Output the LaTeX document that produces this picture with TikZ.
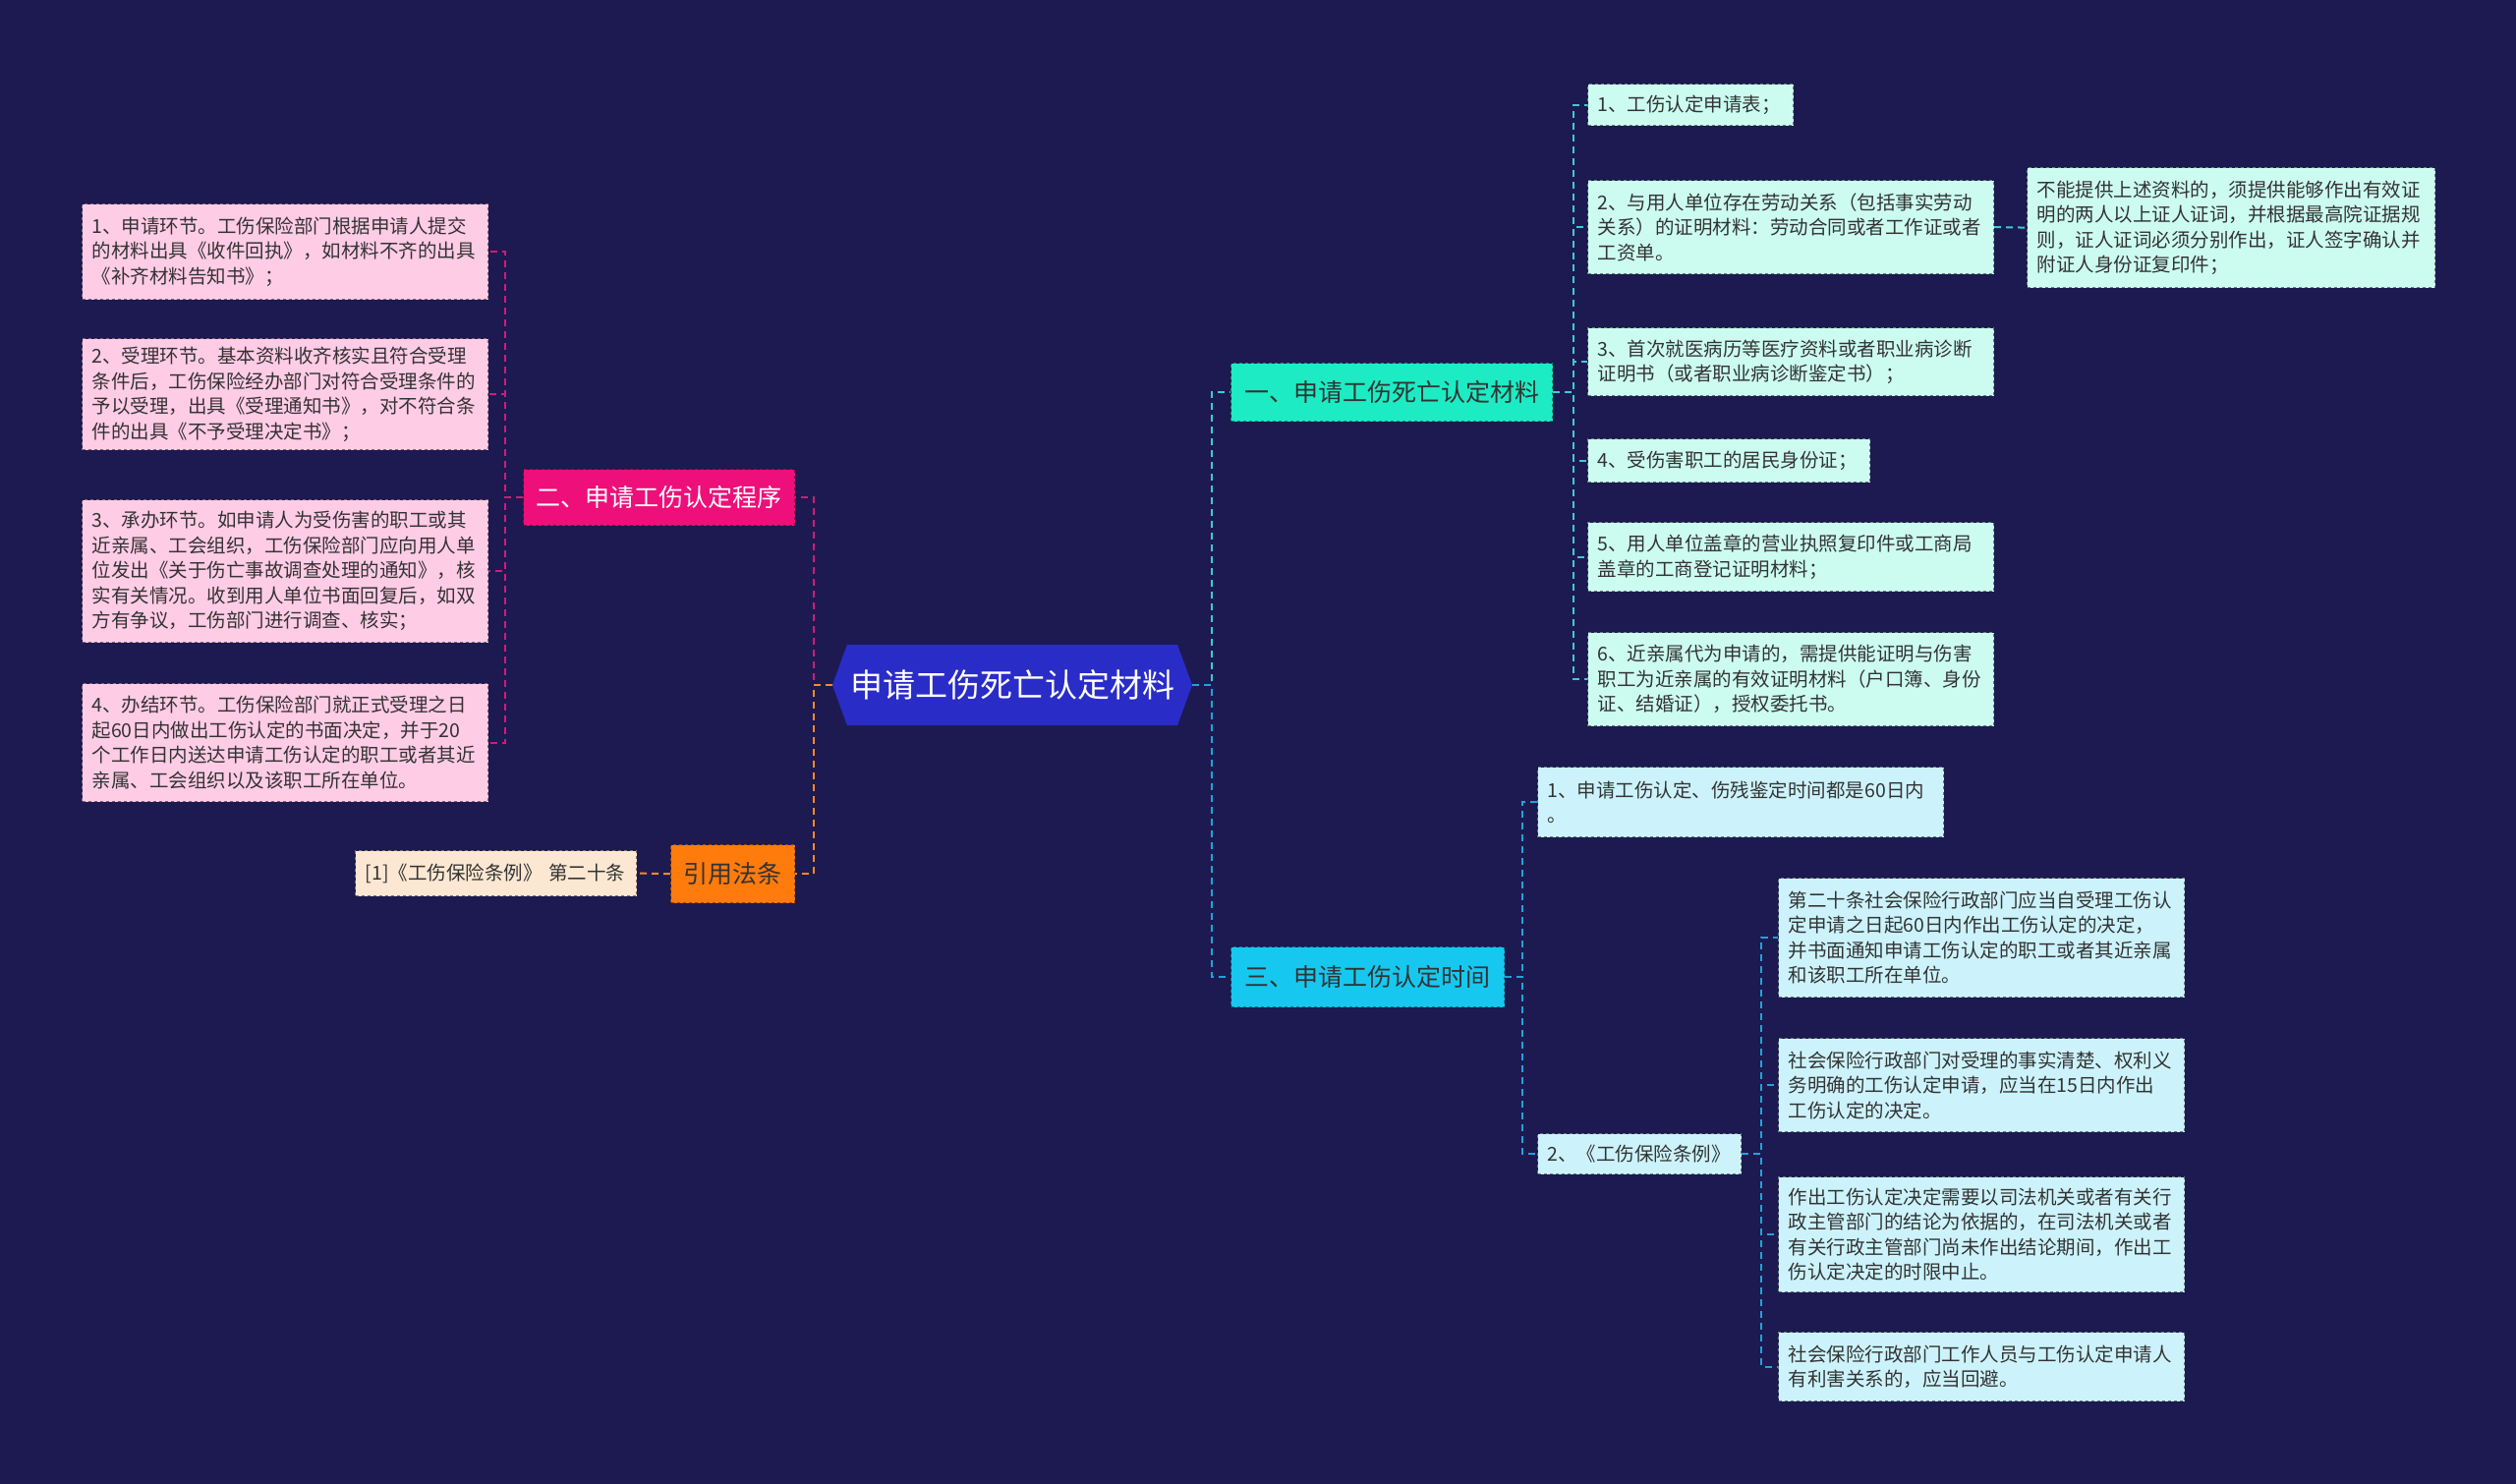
\documentclass[tikz,border=0pt]{standalone}
\usepackage{fontspec}
\setmainfont{Noto Sans CJK SC}
\usepackage{xcolor}
\definecolor{cBg}{HTML}{1C1A50}
\definecolor{cRoot}{HTML}{2A2CC8}
\definecolor{cMint}{HTML}{1DEBC3}
\definecolor{cMintLeaf}{HTML}{CCFCF0}
\definecolor{cMintLink}{HTML}{3CCBD3}
\definecolor{cCyan}{HTML}{16C8F0}
\definecolor{cCyanLeaf}{HTML}{CCF3FB}
\definecolor{cCyanLink}{HTML}{1EA4DB}
\definecolor{cPink}{HTML}{EE0F7A}
\definecolor{cPinkLeaf}{HTML}{FFCCE6}
\definecolor{cPinkLink}{HTML}{D41A78}
\definecolor{cOrange}{HTML}{FF7B0C}
\definecolor{cCream}{HTML}{FCE7D2}
\definecolor{cOrangeLink}{HTML}{FF8A1F}
\definecolor{cText}{HTML}{333333}
\usepackage{tikz}
\usetikzlibrary{positioning,shapes.symbols}
\tikzset{
  node-root/.style={signal,signal to=west and east,signal pointer angle=140,
    fill=cRoot,draw=none,text=white,
    font=\fontsize{33}{40}\selectfont,minimum width=366pt,minimum height=82pt,
    inner sep=0pt},
  node-main/.style={rectangle,dashed,line width=1.2pt,anchor=north west,
    inner xsep=10pt,font=\fontsize{25}{30}\selectfont,text=cText},
  node-leaf/.style={rectangle,dashed,line width=1.2pt,anchor=north west,
    inner xsep=10pt,inner ysep=0pt,align=left,
    font=\fontsize{19.5}{25.5}\selectfont,text=cText},
  leaf-wide/.style={node-leaf,text width=393pt},
  leaf-pink/.style={fill=cPinkLeaf,draw=cPinkLeaf!50!black},
  leaf-mint/.style={fill=cMintLeaf,draw=cMintLeaf!50!black},
  leaf-cyan/.style={fill=cCyanLeaf,draw=cCyanLeaf!50!black},
  link/.style={dashed,dash pattern=on 7pt off 5pt,line width=2pt},
  link-pink/.style={link,draw=cPinkLink},
  link-orange/.style={link,draw=cOrangeLink},
  link-mint/.style={link,draw=cMintLink},
  link-cyan/.style={link,draw=cCyanLink},
}

\begin{document}
\begin{tikzpicture}[x=1pt,y=-1pt]
  \fill[cBg] (0,0) rectangle (2560,1510);
  \useasboundingbox (0,0) rectangle (2560,1510);

  % centre
  \node[node-root] (root) at (1030,697) {申请工伤死亡认定材料};

  % left side
  \node[node-main,fill=cPink,draw=cPink!60!black,text=white,
    minimum width=276pt,minimum height=57pt] (proc) at (532,477) {二、申请工伤认定程序};
  \node[node-main,fill=cOrange,draw=cOrange!60!black,
    minimum width=126pt,minimum height=59pt] (law) at (682,859) {引用法条};
  \node[node-leaf,fill=cCream,draw=cCream!50!black,text width=266pt,
    minimum height=46pt] (law1) at (361,865) {[1]《工伤保险条例》 第二十条};

  \node[leaf-wide,leaf-pink,minimum height=97pt] (p1) at (83,207)
    {1、申请环节。工伤保险部门根据申请人提交\\的材料出具《收件回执》，如材料不齐的出具\\《补齐材料告知书》；};
  \node[leaf-wide,leaf-pink,minimum height=113pt] (p2) at (83,344)
    {2、受理环节。基本资料收齐核实且符合受理\\条件后，工伤保险经办部门对符合受理条件的\\予以受理，出具《受理通知书》，对不符合条\\件的出具《不予受理决定书》；};
  \node[leaf-wide,leaf-pink,minimum height=145pt] (p3) at (83,508)
    {3、承办环节。如申请人为受伤害的职工或其\\近亲属、工会组织，工伤保险部门应向用人单\\位发出《关于伤亡事故调查处理的通知》，核\\实有关情况。收到用人单位书面回复后，如双\\方有争议，工伤部门进行调查、核实；};
  \node[leaf-wide,leaf-pink,minimum height=120pt] (p4) at (83,695)
    {4、办结环节。工伤保险部门就正式受理之日\\起60日内做出工伤认定的书面决定，并于20\\个工作日内送达申请工伤认定的职工或者其近\\亲属、工会组织以及该职工所在单位。};

  % right side, first branch
  \node[node-main,fill=cMint,draw=cMint!60!black,
    minimum width=327pt,minimum height=59pt] (mat) at (1252,369) {一、申请工伤死亡认定材料};
  \node[node-leaf,leaf-mint,text width=189pt,minimum height=42pt] (m1) at (1615,85)
    {1、工伤认定申请表；};
  \node[leaf-wide,leaf-mint,minimum height=95pt] (m2) at (1615,183)
    {2、与用人单位存在劳动关系（包括事实劳动\\关系）的证明材料：劳动合同或者工作证或者\\工资单。};
  \node[node-leaf,leaf-mint,text width=395pt,minimum height=122pt] (m2a) at (2062,170)
    {不能提供上述资料的，须提供能够作出有效证\\明的两人以上证人证词，并根据最高院证据规\\则，证人证词必须分别作出，证人签字确认并\\附证人身份证复印件；};
  \node[leaf-wide,leaf-mint,minimum height=69pt] (m3) at (1615,333)
    {3、首次就医病历等医疗资料或者职业病诊断\\证明书（或者职业病诊断鉴定书）；};
  \node[node-leaf,leaf-mint,text width=267pt,minimum height=44pt] (m4) at (1615,446)
    {4、受伤害职工的居民身份证；};
  \node[leaf-wide,leaf-mint,minimum height=70pt] (m5) at (1615,531)
    {5、用人单位盖章的营业执照复印件或工商局\\盖章的工商登记证明材料；};
  \node[leaf-wide,leaf-mint,minimum height=95pt] (m6) at (1615,643)
    {6、近亲属代为申请的，需提供能证明与伤害\\职工为近亲属的有效证明材料（户口簿、身份\\证、结婚证），授权委托书。};

  % right side, third branch
  \node[node-main,fill=cCyan,draw=cCyan!60!black,
    minimum width=278pt,minimum height=61pt] (time) at (1252,963) {三、申请工伤认定时间};
  \node[leaf-wide,leaf-cyan,minimum height=71pt] (t1) at (1564,780)
    {1、申请工伤认定、伤残鉴定时间都是60日内\\。};
  \node[node-leaf,leaf-cyan,text width=187pt,minimum height=41pt] (t2) at (1564,1153)
    {2、《工伤保险条例》};
  \node[leaf-wide,leaf-cyan,minimum height=121pt] (s1) at (1809,893)
    {第二十条社会保险行政部门应当自受理工伤认\\定申请之日起60日内作出工伤认定的决定，\\并书面通知申请工伤认定的职工或者其近亲属\\和该职工所在单位。};
  \node[leaf-wide,leaf-cyan,minimum height=95pt] (s2) at (1809,1056)
    {社会保险行政部门对受理的事实清楚、权利义\\务明确的工伤认定申请，应当在15日内作出\\工伤认定的决定。};
  \node[leaf-wide,leaf-cyan,minimum height=117pt] (s3) at (1809,1197)
    {作出工伤认定决定需要以司法机关或者有关行\\政主管部门的结论为依据的，在司法机关或者\\有关行政主管部门尚未作出结论期间，作出工\\伤认定决定的时限中止。};
  \node[leaf-wide,leaf-cyan,minimum height=70pt] (s4) at (1809,1355)
    {社会保险行政部门工作人员与工伤认定申请人\\有利害关系的，应当回避。};

  % links
  \draw[link-pink] (root.west) -- ++(-19,0) |- (proc.east);
  \draw[link-orange] (root.west) -- ++(-19,0) |- (law.east);
  \draw[link-orange] (law.west) -- (law1.east);
  \foreach \p in {p1,p2,p3,p4}
    \draw[link-pink] (proc.west) -- ++(-18,0) |- (\p.east);
  \draw[link-mint] (root.east) -- ++(20,0) |- (mat.west);
  \draw[link-cyan] (root.east) -- ++(20,0) |- (time.west);
  \foreach \m in {m1,m2,m3,m4,m5,m6}
    \draw[link-mint] (mat.east) -- ++(21,0) |- (\m.west);
  \draw[link-mint] (m2.east) -- (m2a.west);
  \foreach \t in {t1,t2}
    \draw[link-cyan] (time.east) -- ++(18,0) |- (\t.west);
  \foreach \s in {s1,s2,s3,s4}
    \draw[link-cyan] (t2.east) -- ++(20,0) |- (\s.west);
\end{tikzpicture}
\end{document}
